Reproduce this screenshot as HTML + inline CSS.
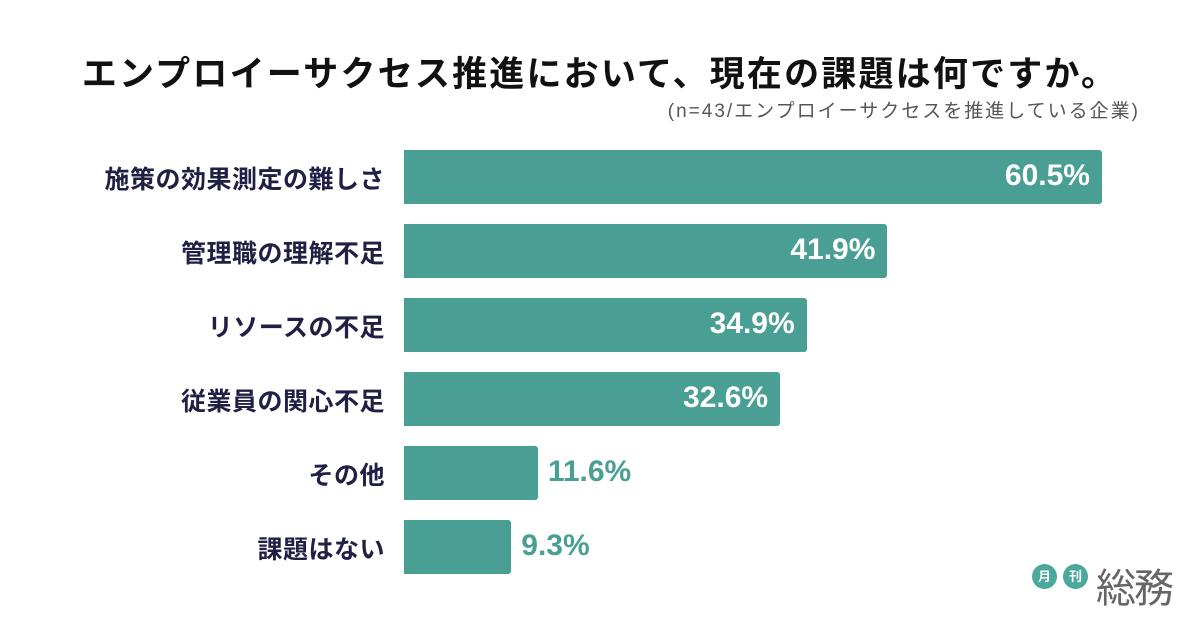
<!DOCTYPE html>
<html><head><meta charset="utf-8"><style>
body{margin:0;width:1200px;height:628px;background:#fff;font-family:"Liberation Sans","Noto Sans CJK JP",sans-serif;overflow:hidden;position:relative}
#title{position:absolute;top:46px;left:0;width:1200px;text-align:center;font-size:35px;font-weight:bold;color:#111;letter-spacing:2.2px}
#sub{position:absolute;top:96px;right:60px;font-size:19px;color:#555;letter-spacing:2px}
.lab{position:absolute;right:815px;font-size:25px;font-weight:bold;color:#1f2044;white-space:nowrap;letter-spacing:0.5px}
.bar{position:absolute;left:404px;height:54px;background:#4a9f94;border-radius:0 3px 3px 0}
.val{position:absolute;font-size:30px;font-weight:bold;white-space:nowrap}
.logo{position:absolute;border-radius:50%;background:#4aa89c;color:#fff;font-size:13px;font-weight:bold;width:25px;height:25px;line-height:25px;text-align:center}
</style></head><body>
<div id="title">エンプロイーサクセス推進において、現在の課題は何ですか。</div>
<div id="sub">(n=43/エンプロイーサクセスを推進している企業)</div>
<div id="chart"></div>
<div class="logo" style="left:1032px;top:564px">月</div>
<div class="logo" style="left:1063px;top:564px">刊</div>
<div style="position:absolute;left:1096px;top:556px;font-size:40px;color:#666;letter-spacing:-2px">総務</div>
<script>
const categories=["施策の効果測定の難しさ","管理職の理解不足","リソースの不足","従業員の関心不足","その他","課題はない"];
const values=[60.5,41.9,34.9,32.6,11.6,9.3];
const x0=404, pxPer=698/60.5, y0=150, step=74, bh=54;
const xs=v=>v*pxPer, ys=i=>y0+i*step;
const c=document.getElementById('chart');
categories.forEach((cat,i)=>{
  const y=ys(i), w=xs(values[i]);
  const l=document.createElement('div');l.className='lab';
  
  
  l.style.top=(y+10)+'px';l.textContent=cat;c.appendChild(l);
  const b=document.createElement('div');b.className='bar';
  
  
  b.style.top=y+'px';b.style.width=w+'px';c.appendChild(b);
  const v=document.createElement('div');v.className='val';
  
  
  v.textContent=values[i].toFixed(1)+'%';v.style.top=(y+9)+'px';
  if(w>200){v.style.color='#fff';v.style.right=(1200-(x0+w)+12)+'px';}
  else{v.style.color='#4a9f94';v.style.left=(x0+w+10)+'px';}
  c.appendChild(v);
});
</script>
</body></html>
